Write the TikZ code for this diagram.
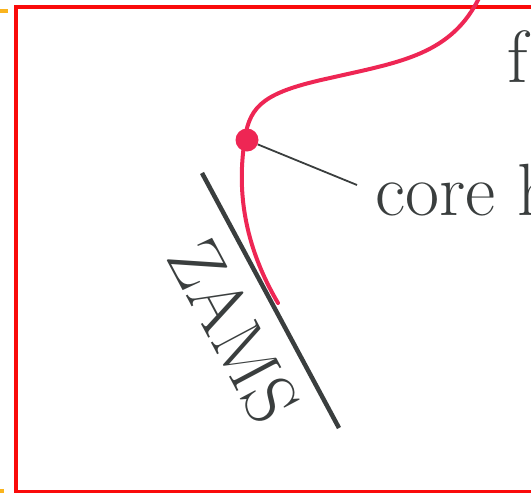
\documentclass[tikz,border=0pt]{standalone}
\usepackage{fontspec}
\usepackage{xcolor}
\usetikzlibrary{calc}

\definecolor{trackred}{RGB}{238,38,84}
\definecolor{inkgray}{RGB}{58,62,62}
\definecolor{framered}{RGB}{250,10,10}
\definecolor{frameorange}{RGB}{250,180,30}

\begin{document}
\begin{tikzpicture}[
  x=1pt, y=-1pt,
  font=\fontsize{74}{88}\selectfont,
  frame/.style  ={draw=framered, line width=4pt},
  outer/.style  ={draw=frameorange, line width=4pt},
  track/.style  ={draw=trackred, line width=4pt, line cap=round},
  point/.style  ={circle, fill=trackred, inner sep=0pt, minimum size=23pt},
  zamsline/.style={draw=inkgray, line width=4.5pt},
  leader/.style ={draw=inkgray, line width=1.8pt},
  lbl/.style    ={text=inkgray, inner sep=0pt},
]
\useasboundingbox (0,0) rectangle (531,493);

% ---------- frames ----------
\draw[outer] (-10,10.5) -- (8,10.5);
\draw[outer] (-10,491) -- (4,491);
\draw[frame] (16,7) rectangle (560,491.5);

% ---------- ZAMS ----------
\coordinate (zamsA) at (202,173);
\coordinate (zamsB) at (339,428);
\draw[zamsline] (zamsA) -- (zamsB);
\node[lbl, rotate=-62] (zams) at (234,331) {ZAMS};

% ---------- track ----------
\draw[track] (480,-4) .. controls (452,55) and (400,62) .. (330,78)
  .. controls (265,92) and (250,105) .. (245,138)
  .. controls (240,170) and (235,230) .. (278,303);
\node[point] (core) at (247,140) {};

% ---------- labels ----------
\node[lbl, anchor=base west] (corelabel) at (375,215) {core h};
\node[lbl, anchor=base west] (ftext) at (507,82) {f};
\coordinate (leaderend) at (357,185);
\draw[leader] (core) -- (leaderend);

\end{tikzpicture}
\end{document}
